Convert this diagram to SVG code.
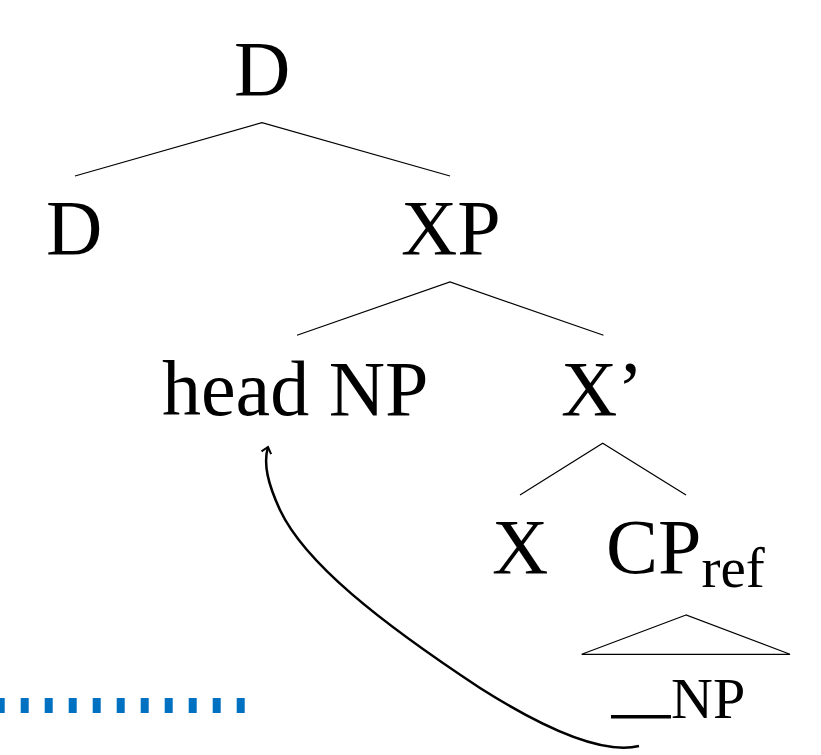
<svg xmlns="http://www.w3.org/2000/svg" width="821" height="755" viewBox="0 0 821 755">
<style>
text{font-family:"Liberation Serif","Times New Roman",serif;fill:#000}
.n{font-size:78px}
.e{fill:none;stroke:#000;stroke-width:1.2}
</style>
<defs>
<marker id="ah" markerWidth="14" markerHeight="14" refX="7" refY="7" orient="auto" markerUnits="userSpaceOnUse">
<polyline points="1,2 7,7 1,12" fill="none" stroke="#000" stroke-width="2"/>
</marker>
</defs>
<rect width="821" height="755" fill="#fff"/>
<g id="connectors">
<polyline class="e" points="75,176 262,122.7 450,176"/>
<polyline class="e" points="297,335.3 450,282 603.5,335.3"/>
<polyline class="e" points="520,495 602.7,443.3 686,495"/>
<polygon class="e" points="686,615 581.7,654.3 790,654.3"/>
<path d="M639,746 C614,752 570,745 480,688 C380,622 305,563 280,510 C268,484 263,464 268,447" fill="none" stroke="#000" stroke-width="2.5" marker-end="url(#ah)"/>
</g>
<g id="node-D-top"><text class="n" x="234" y="95">D</text></g>
<g id="node-D"><text class="n" x="46" y="254">D</text></g>
<g id="node-XP"><text class="n" x="401" y="254">XP</text></g>
<g id="node-headNP"><text class="n" x="162" y="415">head NP</text></g>
<g id="node-Xbar"><text class="n" x="561" y="415">X’</text></g>
<g id="node-X"><text class="n" x="492" y="573">X</text></g>
<g id="node-CPref"><text class="n" x="606" y="573">CP<tspan font-size="57" dy="14">ref</tspan></text></g>
<g id="node-gap">
<line x1="611" y1="716.7" x2="671" y2="716.7" stroke="#000" stroke-width="3.5"/>
<text x="671" y="718" font-size="58">NP</text>
</g>
<line x1="-3.3" y1="705.5" x2="250" y2="705.5" stroke="#0070C0" stroke-width="15" stroke-dasharray="8 16"/>
</svg>
